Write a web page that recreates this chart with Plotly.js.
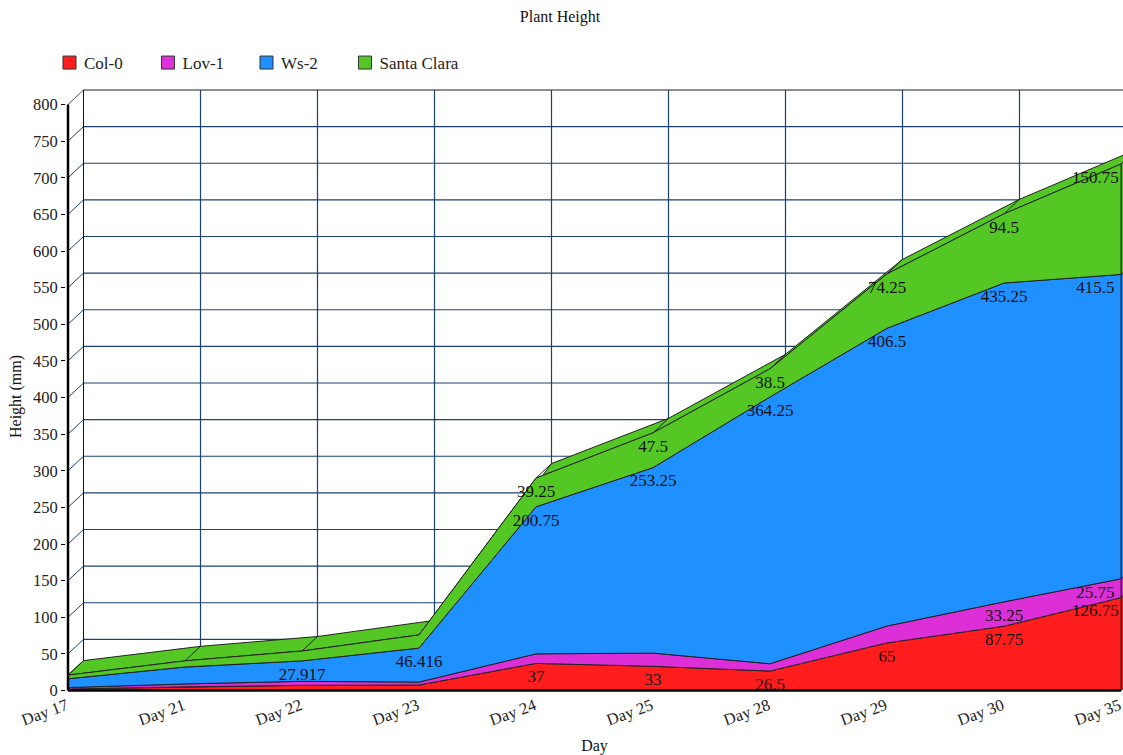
<!DOCTYPE html>
<html>
<head>
<meta charset="utf-8">
<script src="https://cdn.plot.ly/plotly-3.0.1.min.js"></script>
<style>html,body{margin:0;padding:0;background:#fff;overflow:hidden}#chart{width:1123px;height:755px}</style>
</head>
<body>
<div id="chart"></div>
<script>
const days = ["Day 17","Day 21","Day 22","Day 23","Day 24","Day 25","Day 28","Day 29","Day 30","Day 35"];
const col0 = [2,5,7,7.5,37,33,26.5,65,87.75,126.75];
const lov1 = [2,4,5.5,4,13,18,10,23,33.25,25.75];
const ws2 = [12,23,27.917,46.416,200.75,253.25,364.25,406.5,435.25,415.5];
const santaClara = [5,8.5,13.5,18,39.25,47.5,38.5,74.25,94.5,150.75];
const seriesNames = ["Col-0","Lov-1","Ws-2","Santa Clara"];
const seriesColors = ["#FF1D1D","#DD2FD8","#1E90FF","#55C725"];
const col0Shown = [4,5,6,7,8,9];
const lov1Shown = [8,9];
const ws2Shown = [2,3,4,5,6,7,8,9];
const santaClaraShown = [4,5,6,7,8,9];
const yTicks = [0,50,100,150,200,250,300,350,400,450,500,550,600,650,700,750,800];

const allValues = [col0, lov1, ws2, santaClara];
const allShown = [col0Shown, lov1Shown, ws2Shown, santaClaraShown];
const xIdx = days.map((d,i)=>i);
const depthX = 0.1325, depthY = 19.8;
const last = days.length-1, yMax = 800;
const gridColor = "#1B4272", edge = "#222";
const traces = [];

function seg(xs, ys, color, width){
  traces.push({x:xs,y:ys,mode:"lines",line:{color:color,width:width||1,simplify:false},
    hoverinfo:"skip",showlegend:false,type:"scatter"});
}
// back wall and left wall grid
{
  const hx=[],hy=[],dx=[],dy=[],vx=[],vy=[];
  yTicks.forEach(v=>{
    if(v>0&&v<yMax){hx.push(depthX,last+depthX,null);hy.push(v+depthY,v+depthY,null);
    dx.push(0,depthX,null);dy.push(v,v+depthY,null);}
  });
  xIdx.forEach(i=>{ if(i>0){vx.push(i+depthX,i+depthX,null);vy.push(depthY,yMax+depthY,null);} });
  seg(hx,hy,gridColor,1.2); seg(dx,dy,gridColor); seg(vx,vy,gridColor,1.2);
  seg([depthX,last+depthX],[yMax+depthY,yMax+depthY],"#222",1.2);
  seg([depthX,depthX],[depthY,yMax+depthY],"#111");
  seg([0,depthX],[yMax,yMax+depthY],"#555");
}
// stacked 3D areas
let base = days.map(()=>0);
const labelTraces = [];
allValues.forEach((vals,s)=>{
  const top = vals.map((v,i)=>base[i]+v);
  const fc = seriesColors[s];
  const rev = a=>a.slice().reverse();
  traces.push({x:xIdx.concat(rev(xIdx).map(i=>i+depthX),[0]),y:top.concat(rev(top).map(v=>v+depthY),[top[0]]),
    mode:"lines",fill:"toself",fillcolor:fc,line:{color:edge,width:1},hoverinfo:"skip",showlegend:false,type:"scatter"});
  const nx=[],ny=[];
  xIdx.forEach(i=>{nx.push(i,i+depthX,null);ny.push(top[i],top[i]+depthY,null);});
  seg(nx,ny,edge);
  traces.push({x:[last,last+depthX,last+depthX,last,last],y:[base[last],base[last]+depthY,top[last]+depthY,top[last],base[last]],
    mode:"lines",fill:"toself",fillcolor:fc,line:{color:edge,width:1},hoverinfo:"skip",showlegend:false,type:"scatter"});
  traces.push({x:xIdx.concat(rev(xIdx),[0]),y:top.concat(rev(base),[top[0]]),
    mode:"lines",fill:"toself",fillcolor:fc,line:{color:edge,width:1},name:seriesNames[s],
    hoverinfo:"skip",showlegend:false,type:"scatter"});
  const shown = allShown[s];
  labelTraces.push({x:shown.map(i=>i===last?i-0.22:i),y:shown.map(i=>top[i]),text:shown.map(i=>String(vals[i])),mode:"markers+text",
    marker:{size:8,opacity:0},
    textposition:"bottom center",
    textfont:{family:"Liberation Serif",size:17,color:"#111"},cliponaxis:false,
    hoverinfo:"skip",showlegend:false,type:"scatter"});
  base = top;
});
traces.push(...labelTraces);
// front axes
seg([0,0],[0,yMax],"#000",2.5);
seg([0,last],[0,0],"#000",2.5);
// legend entries
seriesNames.forEach((n,s)=>{
  traces.push({x:[null],y:[null],mode:"markers",name:n,type:"scatter",
    marker:{symbol:"square",size:13,color:seriesColors[s],line:{color:"#333",width:1}}});
});

const plotTop = 89, plotH = 692-plotTop;
const layout = {
  width:1123,height:755,
  margin:{l:66,r:0,t:plotTop,b:63,pad:0},
  paper_bgcolor:"#fff",plot_bgcolor:"#fff",
  font:{family:"Liberation Serif",size:16,color:"#222"},
  title:{text:"Plant Height",x:560/1123,xref:"container",xanchor:"center",y:1-16/755,yref:"container",yanchor:"middle",
    font:{family:"Liberation Serif",size:16,color:"#111"}},
  showlegend:true,
  legend:{orientation:"h",x:(49.5-66)/1057,xanchor:"left",y:1+(plotTop-45)/plotH,yanchor:"top",
    entrywidth:53.5,entrywidthmode:"pixels",itemwidth:30,
    font:{family:"Liberation Serif",size:17,color:"#222"},bgcolor:"rgba(0,0,0,0)",traceorder:"normal"},
  xaxis:{range:[-2/117,1055/117],tickmode:"array",tickvals:xIdx,ticktext:days,tickangle:-20,
    showgrid:false,zeroline:false,showline:false,ticks:"outside",ticklen:4,tickwidth:1,tickcolor:"#000",
    ticklabeloverflow:"allow",ticklabelstandoff:-7,
    tickfont:{family:"Liberation Serif",size:16.5,color:"#222"},
    title:{text:"Day",standoff:19,font:{family:"Liberation Serif",size:16,color:"#111"}}},
  yaxis:{range:[-1.5/0.7325,(690.5-plotTop)/0.7325],tickmode:"array",tickvals:yTicks,
    showgrid:false,zeroline:false,showline:false,ticks:"outside",ticklen:4,tickwidth:1,tickcolor:"#000",
    tickfont:{family:"Liberation Serif",size:16.5,color:"#222"}},
  annotations:[{text:"Height (mm)",textangle:-90,xref:"paper",x:(16-66)/1057,xanchor:"center",yref:"y",y:(690.5-397)/0.7325,yanchor:"middle",
    showarrow:false,font:{family:"Liberation Serif",size:16,color:"#111"}}],
  hovermode:false
};
Plotly.newPlot("chart",traces,layout,{displayModeBar:false,staticPlot:true}).then(()=>{
  document.querySelectorAll("#chart .legendtext").forEach(t=>t.setAttribute("x",34.5));
  document.querySelectorAll("#chart .legend .scrollbox").forEach(b=>{b.removeAttribute("clip-path");b.style.clipPath="none";});
  document.querySelectorAll("#chart .xtick").forEach(g=>g.setAttribute("transform","translate(-1.5,0)"));
});
</script>
</body>
</html>
